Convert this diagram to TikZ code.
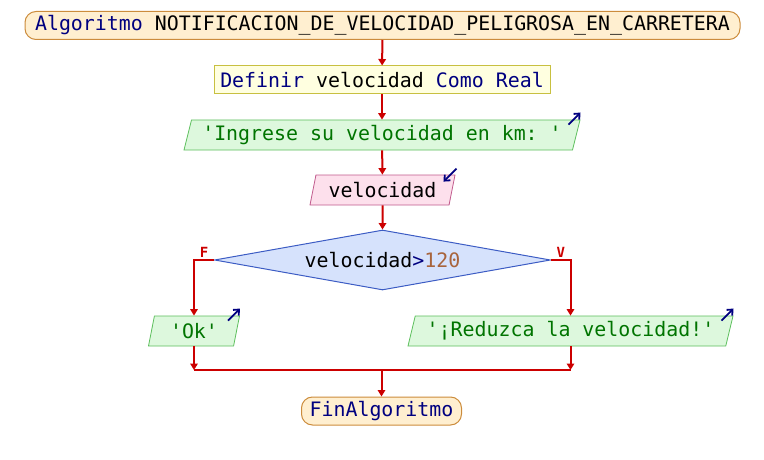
\documentclass[tikz,border=0pt]{standalone}
\usepackage{fontspec}
\setmonofont{DejaVu Sans Mono}
\usepackage{tikz}
\usetikzlibrary{shapes.geometric,arrows.meta}
\usepackage{xcolor}

\definecolor{kw}{HTML}{000080}
\definecolor{txtgreen}{HTML}{007400}
\definecolor{numcol}{HTML}{A8643C}
\definecolor{flowred}{HTML}{CC0000}
\definecolor{termfill}{HTML}{FFEFD0}
\definecolor{termline}{HTML}{CC8C3C}
\definecolor{procfill}{HTML}{FFFFE0}
\definecolor{procline}{HTML}{C8C040}
\definecolor{outfill}{HTML}{DDF8DD}
\definecolor{outline}{HTML}{5CBF5C}
\definecolor{infill}{HTML}{FDE0EC}
\definecolor{inline}{HTML}{C05A8C}
\definecolor{condfill}{HTML}{D6E2FC}
\definecolor{condline}{HTML}{3C5CC4}

\tikzset{
  every node/.style={font=\fontsize{19.9}{24}\selectfont\ttfamily, inner sep=0pt},
  term/.style={draw=termline, fill=termfill, rounded corners=11pt, line width=1pt, minimum height=28pt},
  proc/.style={draw=procline, fill=procfill, line width=1pt, minimum height=28pt},
  outbox/.style={trapezium, trapezium left angle=69, trapezium right angle=111, trapezium stretches body,
    draw=outline, fill=outfill, line width=0.8pt, minimum height=30pt, text=txtgreen},
  inbox/.style={trapezium, trapezium left angle=69, trapezium right angle=111, trapezium stretches body,
    draw=inline, fill=infill, line width=0.8pt, minimum height=30pt},
  cond/.style={diamond, draw=condline, fill=condfill, line width=1pt, aspect=5.6},
  flow/.style={draw=flowred, line width=2pt, -{Triangle[length=6.5pt,width=7.5pt]}},
  joinline/.style={draw=flowred, line width=2pt},
  icon/.style={draw=kw, line width=1.8pt, -{Straight Barb[length=4.5pt,width=8pt]}},
  flag/.style={text=flowred, font=\fontsize{14}{16}\selectfont\ttfamily\bfseries}
}

\begin{document}
\begin{tikzpicture}[x=1pt,y=-1pt]
\useasboundingbox (0,0) rectangle (764,460);

% nodes
\node [term, minimum width=715pt] (start) at (382.5,25.5) {\textcolor{kw}{Algoritmo} NOTIFICACION\_DE\_VELOCIDAD\_PELIGROSA\_EN\_CARRETERA};
\node [proc, minimum width=336pt] (def) at (382,80) {\textcolor{kw}{Definir} velocidad \textcolor{kw}{Como Real}};
\node [outbox, minimum width=396pt] (out1) at (382,135) {'Ingrese su velocidad en km: '};
\node [inbox, minimum width=145pt] (in1) at (382.5,190) {velocidad};
\node [cond, minimum width=336pt, minimum height=60pt] (dec) at (382.5,260) {velocidad\textcolor{kw}{>}\textcolor{numcol}{120}};
\node [outbox, minimum width=91pt] (ok) at (194,331) {'Ok'};
\node [outbox, minimum width=325pt] (red) at (570.5,331) {'¡Reduzca la velocidad!'};
\node [term, minimum width=160pt] (fin) at (381.5,411) {\textcolor{kw}{FinAlgoritmo}};

\coordinate (jl) at (194,370);
\coordinate (jr) at (570.5,370);
\coordinate (jm) at (381.5,370);

% connectors
\draw [flow] (start) -- (def);
\draw [flow] (def) -- (out1);
\draw [flow] (out1) -- (in1);
\draw [flow] (in1) -- (dec);
\draw [flow] (dec.west) -| node [flag, pos=0.25, above=2pt] {F} (ok);
\draw [flow] (dec.east) -| node [flag, pos=0.25, above=2pt] {V} (red);
\draw [flow] (ok) -- (jl);
\draw [flow] (red) -- (jr);
\draw [joinline] (jl) -- (jr);
\draw [flow] (jm) -- (fin);

% io marks
\draw [icon] ([shift={(-12,5)}]out1.top right corner) -- ([shift={(0,-7)}]out1.top right corner);
\draw [icon] ([shift={(1,-6)}]in1.top right corner) -- ([shift={(-12,7)}]in1.top right corner);
\draw [icon] ([shift={(-12,5)}]ok.top right corner) -- ([shift={(0,-7)}]ok.top right corner);
\draw [icon] ([shift={(-12,5)}]red.top right corner) -- ([shift={(0,-7)}]red.top right corner);
\end{tikzpicture}
\end{document}
